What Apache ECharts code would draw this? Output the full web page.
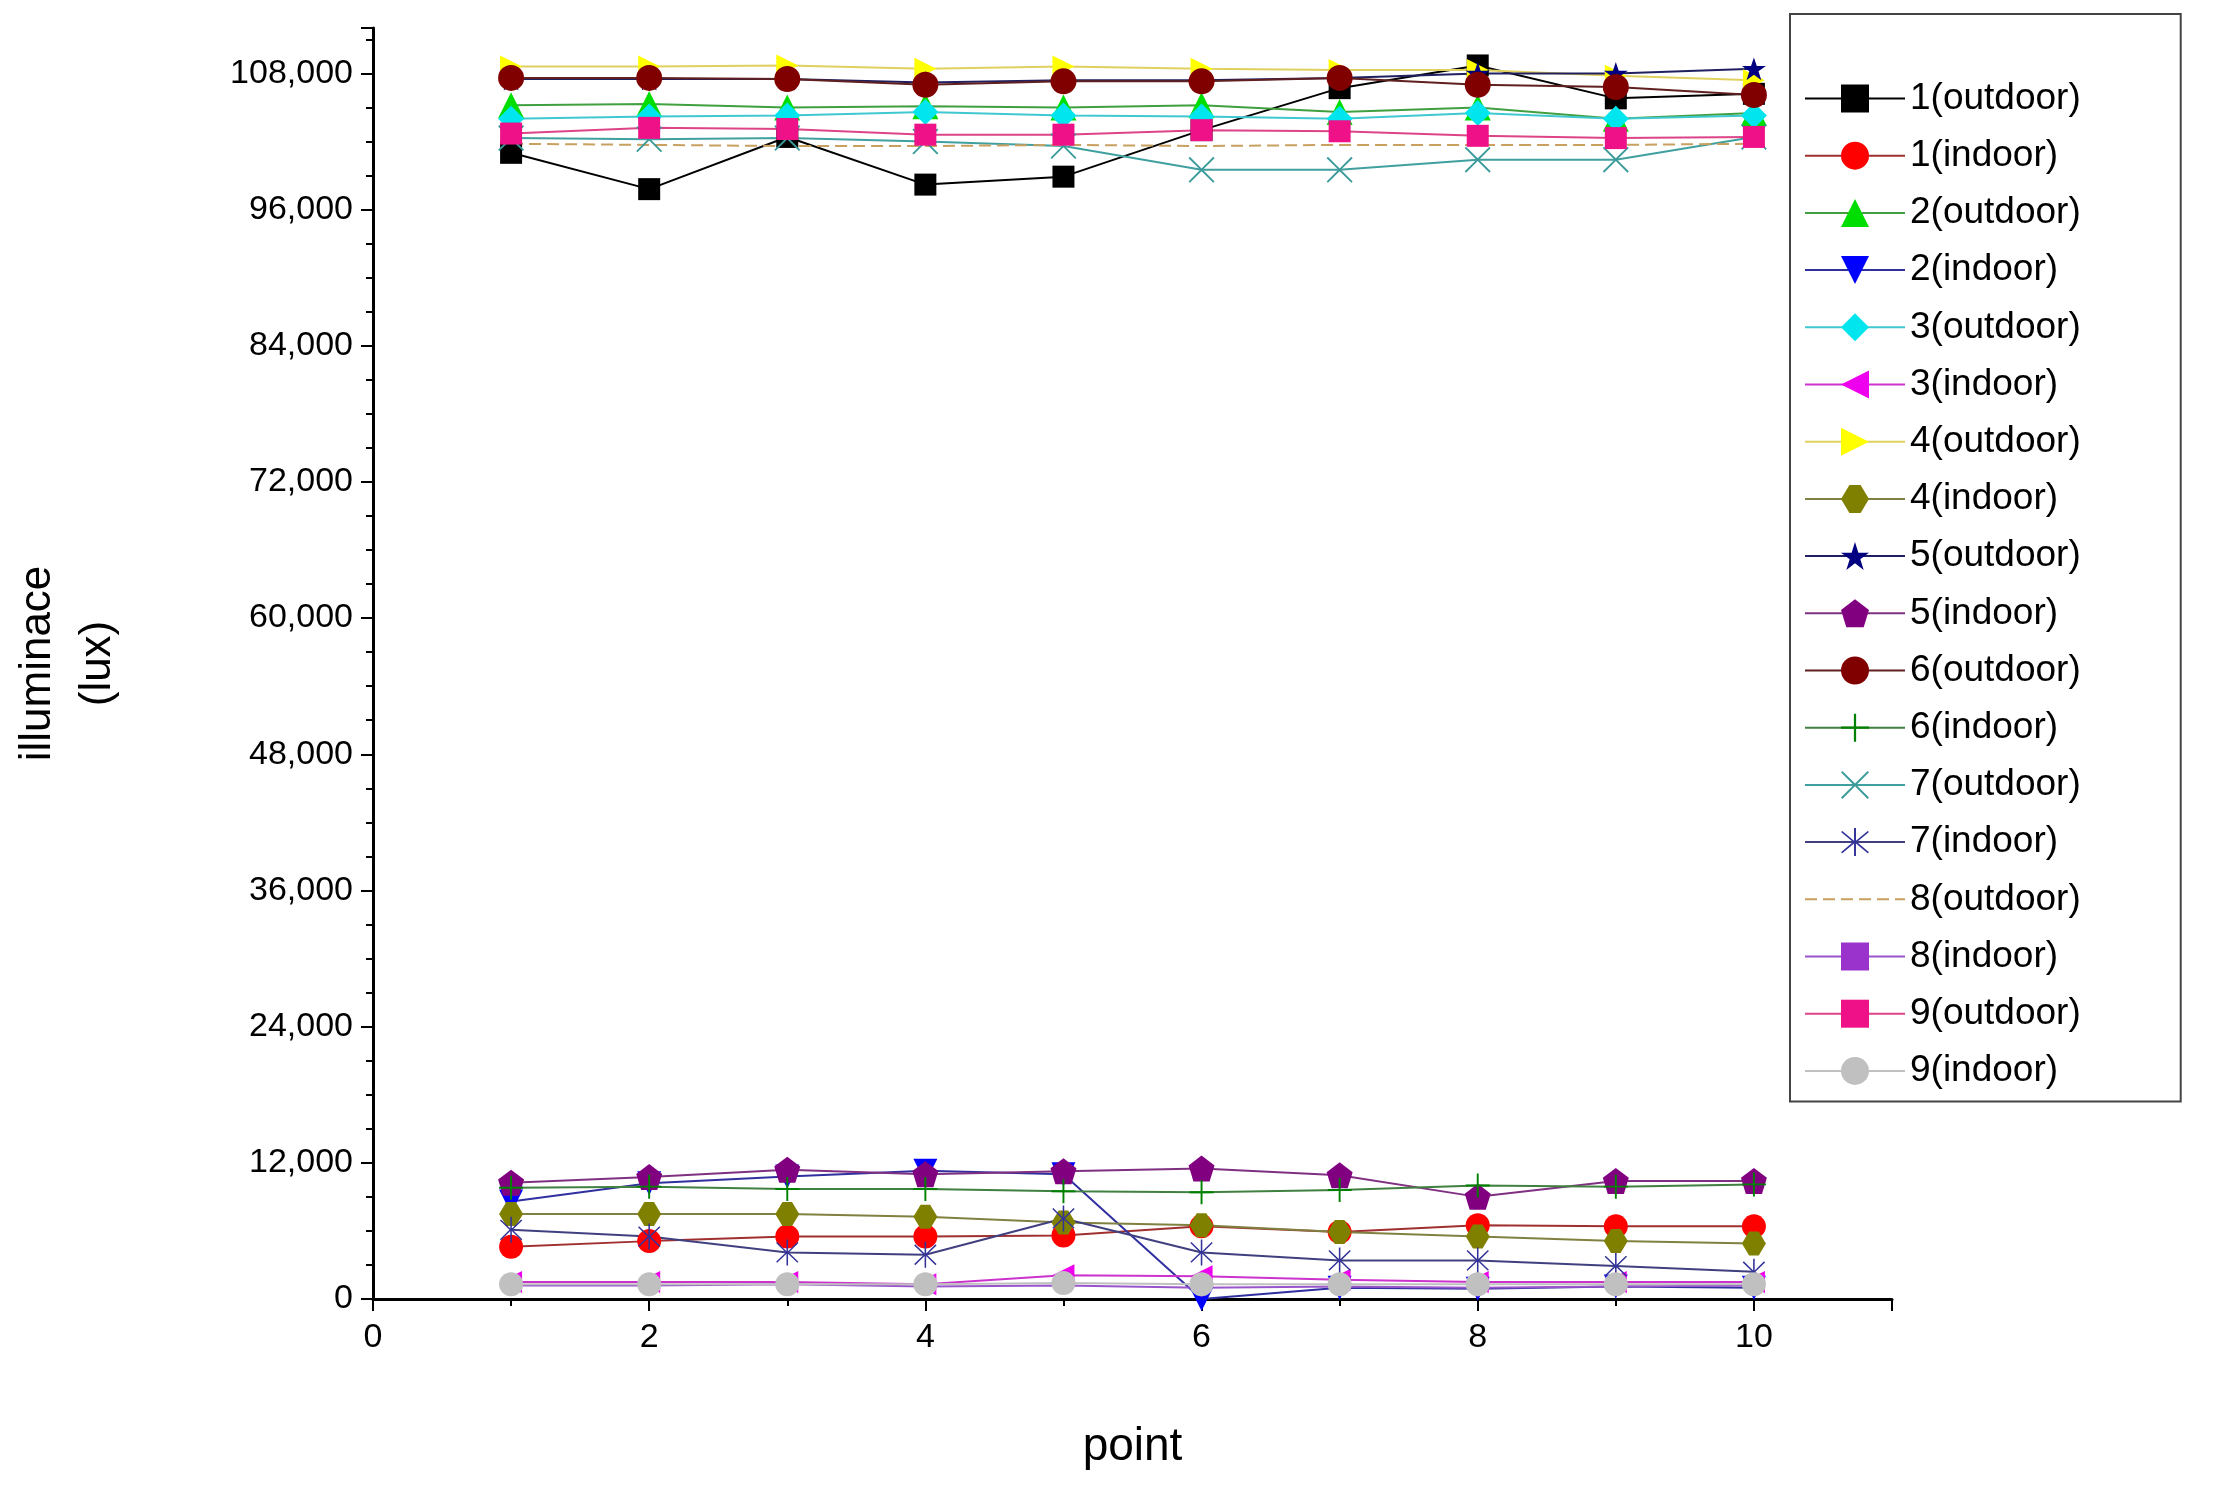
<!DOCTYPE html>
<html>
<head>
<meta charset="utf-8">
<script src="https://cdn.jsdelivr.net/npm/echarts@6/dist/echarts.min.js"></script>
<style>html,body{margin:0;padding:0;background:#fff}#chartDiv{width:2220px;height:1494px}</style>
</head>
<body>
<div id="chartDiv"></div>
<script>
var points = [1, 2, 3, 4, 5, 6, 7, 8, 9, 10];
var seriesNames = ['1(outdoor)', '1(indoor)', '2(outdoor)', '2(indoor)', '3(outdoor)', '3(indoor)',
    '4(outdoor)', '4(indoor)', '5(outdoor)', '5(indoor)', '6(outdoor)', '6(indoor)',
    '7(outdoor)', '7(indoor)', '8(outdoor)', '8(indoor)', '9(outdoor)', '9(indoor)'];
var out1 = [101000, 97800, 102400, 98200, 98900, 103000, 106700, 108700, 105800, 106200];
var in1 = [4600, 5100, 5500, 5500, 5600, 6400, 5900, 6500, 6400, 6400];
var out2 = [105200, 105300, 105000, 105100, 105000, 105200, 104600, 105000, 104000, 104500];
var in2 = [8600, 10200, 10800, 11300, 11000, 0, 1000, 900, 1100, 1000];
var out3 = [104000, 104200, 104300, 104600, 104300, 104200, 104000, 104500, 104000, 104300];
var in3 = [1500, 1500, 1500, 1300, 2100, 2000, 1700, 1500, 1500, 1500];
var out4 = [108600, 108600, 108700, 108400, 108600, 108400, 108300, 108300, 107800, 107400];
var in4 = [7500, 7500, 7500, 7250, 6750, 6500, 5900, 5500, 5100, 4900];
var out5 = [107500, 107500, 107500, 107200, 107400, 107400, 107600, 108000, 108000, 108400];
var in5 = [10250, 10750, 11400, 11000, 11250, 11500, 10900, 9000, 10400, 10400];
var out6 = [107600, 107600, 107500, 107000, 107300, 107300, 107600, 107000, 106800, 106100];
var in6 = [9800, 9900, 9700, 9700, 9500, 9400, 9600, 10000, 9900, 10100];
var out7 = [102300, 102200, 102300, 102000, 101600, 99500, 99500, 100400, 100400, 102400];
var in7 = [6100, 5500, 4100, 3900, 7100, 4100, 3400, 3400, 2900, 2400];
var out8 = [101800, 101700, 101600, 101600, 101700, 101600, 101700, 101700, 101700, 101800];
var in8 = [1200, 1200, 1300, 1100, 1200, 1000, 1100, 1000, 1100, 1200];
var out9 = [102700, 103200, 103100, 102600, 102600, 103000, 102900, 102500, 102300, 102400];
var in9 = [1300, 1300, 1300, 1300, 1400, 1300, 1300, 1300, 1300, 1300];
var yTicks = [0, 12000, 24000, 36000, 48000, 60000, 72000, 84000, 96000, 108000];
var xTicks = [0, 2, 4, 6, 8, 10];

var values = [out1, in1, out2, in2, out3, in3, out4, in4, out5, in5, out6, in6, out7, in7, out8, in8, out9, in9];
var colors = ['#000000', '#ff0000', '#00dd00', '#0000ff', '#00e5ee', '#ee00ee', '#ffff00', '#808000',
    '#000080', '#800080', '#800000', '#008000', '#3a9a9a', '#333399', 'transparent', '#9933cc', '#ee1188', '#c0c0c0'];
var lineColors = ['#000000', '#a03030', '#40a040', '#3030a0', '#40c8d0', '#cc33cc', '#e0d060', '#808040',
    '#202060', '#803080', '#602020', '#408040', '#40a0a0', '#404080', '#c8a060', '#9955cc', '#dd4488', '#c0c0c0'];
var symbols = [
    'rect', 'circle', 'triangle',
    'path://M0,0L10,0L5,10Z',
    'diamond',
    'path://M10,0L10,10L0,5Z',
    'path://M0,0L0,10L10,5Z',
    'path://M3,0L7,0L10,5L7,10L3,10L0,5Z',
    'path://M5,0L6.2,3.6L10,3.6L6.9,5.8L8.1,9.5L5,7.2L1.9,9.5L3.1,5.8L0,3.6L3.8,3.6Z',
    'path://M5,0L10,3.8L8.1,10L1.9,10L0,3.8Z',
    'circle',
    'path://M4.6,0H5.4V4.6H10V5.4H5.4V10H4.6V5.4H0V4.6H4.6Z',
    'path://M0.5,0L5,4.5L9.5,0L10,0.5L5.5,5L10,9.5L9.5,10L5,5.5L0.5,10L0,9.5L4.5,5L0,0.5Z',
    'path://M4.7,0H5.3V4.5L8.9,1L9.3,1.4L5.6,5L9.3,8.6L8.9,9L5.3,5.5V10H4.7V5.5L1.1,9L0.7,8.6L4.4,5L0.7,1.4L1.1,1L4.7,4.5Z',
    'circle',
    'path://M4.4,0H5.6V10H4.4Z',
    'rect', 'circle'
];
var sizes = [22, 24, 26, 24, 26, 22, 22, 24, 24, 26, 26, 24, 26, 26, 1, 18, 22, 24];

var series = seriesNames.map(function (name, i) {
    return {
        name: name,
        type: 'line',
        symbol: symbols[i],
        symbolSize: sizes[i],
        symbolKeepAspect: true,
        showAllSymbol: true,
        data: points.map(function (p, j) { return [p, values[i][j]]; }),
        lineStyle: { color: lineColors[i], width: 2, type: i == 14 ? [12, 6] : 'solid' },
        itemStyle: { color: colors[i] }
    };
});

var myChart_1 = echarts.init(document.getElementById('chartDiv'));
myChart_1.setOption({
    animation: false,
    backgroundColor: '#fff',
    textStyle: { fontFamily: 'Arial, Liberation Sans' },
    grid: { left: 340, right: 328, top: 28, bottom: 195 },
    legend: {
        orient: 'vertical',
        left: 1790,
        top: 14,
        itemGap: 20.2,
        itemWidth: 100,
        itemHeight: 35,
        borderColor: '#444',
        borderWidth: 2,
        padding: [66, 100, 12, 14],
        textStyle: { fontSize: 37, lineHeight: 32, color: '#000', fontFamily: 'Arial, Liberation Sans' },
        data: seriesNames
    },
    xAxis: {
        type: 'value', min: 0, max: 11, interval: 2,
        name: 'point', nameLocation: 'middle', nameGap: 125,
        nameTextStyle: { fontSize: 46, color: '#000' },
        axisLine: { lineStyle: { color: '#000', width: 3 } },
        axisTick: { lineStyle: { color: '#000', width: 2 }, length: 12 },
        minorTick: { show: true, splitNumber: 2, length: 7, lineStyle: { color: '#000', width: 2 } },
        splitLine: { show: false },
        axisLabel: {
            fontSize: 34, color: '#000', margin: 22,
            formatter: function (v) { return xTicks.indexOf(v) >= 0 ? v : ''; }
        }
    },
    yAxis: {
        type: 'value', min: 0, max: 112000, interval: 12000,
        name: 'illuminace\n(lux)', nameLocation: 'middle', nameGap: 245, nameRotate: 90,
        nameTextStyle: { fontSize: 44, color: '#000', lineHeight: 60 },
        axisLine: { show: true, lineStyle: { color: '#000', width: 3 } },
        axisTick: { lineStyle: { color: '#000', width: 2 }, length: 12 },
        minorTick: { show: true, splitNumber: 4, length: 7, lineStyle: { color: '#000', width: 2 } },
        splitLine: { show: false },
        axisLabel: {
            fontSize: 34, color: '#000', margin: 20,
            formatter: function (v) { return yTicks.indexOf(v) >= 0 ? v.toLocaleString('en-US') : ''; }
        }
    },
    series: series
});
</script>
</body>
</html>
